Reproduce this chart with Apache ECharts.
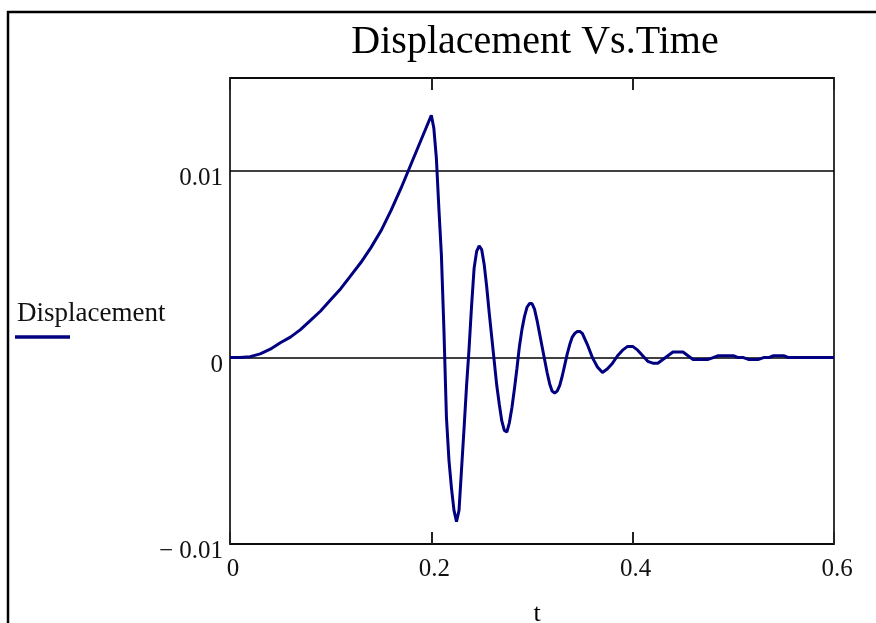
<!DOCTYPE html>
<html>
<head>
<meta charset="utf-8">
<script src="https://cdn.jsdelivr.net/npm/echarts@6/dist/echarts.min.js"></script>
<style>
html,body{margin:0;padding:0;background:#fff;}
#main{width:876px;height:623px;}
</style>
</head>
<body>
<div id="main"></div>
<script>
var timeValues = [0, 0.01, 0.02, 0.03, 0.04, 0.05, 0.06, 0.07, 0.08, 0.09, 0.10, 0.11, 0.12, 0.13, 0.14, 0.15, 0.16, 0.17, 0.18, 0.19,
    0.2000, 0.2025, 0.2050, 0.2075, 0.2100, 0.2125, 0.2150, 0.2175, 0.2200, 0.2225, 0.2250, 0.2275, 0.2300, 0.2325, 0.2350, 0.2375,
    0.2400, 0.2425, 0.2450, 0.2475, 0.2500, 0.2525, 0.2550, 0.2575, 0.2600, 0.2625, 0.2650, 0.2675, 0.2700, 0.2725, 0.2750, 0.2775,
    0.2800, 0.2825, 0.2850, 0.2875, 0.2900, 0.2925, 0.2950, 0.2975, 0.3000, 0.3025, 0.3050, 0.3075, 0.3100, 0.3125, 0.3150, 0.3175,
    0.3200, 0.3225, 0.3250, 0.3275, 0.3300, 0.3325, 0.3350, 0.3375, 0.3400, 0.3425, 0.3450, 0.3475, 0.3500, 0.3550, 0.3600, 0.3650,
    0.3700, 0.3750, 0.3800, 0.3850, 0.3900, 0.3950, 0.4000, 0.4050, 0.4100, 0.4150, 0.4200, 0.4250, 0.4300, 0.4350, 0.4400, 0.4450,
    0.4500, 0.4550, 0.4600, 0.4650, 0.4700, 0.4750, 0.4800, 0.4850, 0.4900, 0.4950, 0.5000, 0.5050, 0.5100, 0.5150, 0.5200, 0.5250,
    0.5300, 0.5350, 0.5400, 0.5450, 0.5500, 0.5550, 0.5600, 0.6000];
var displacement = [0, 0.00001, 0.00005, 0.0002, 0.00045, 0.0008, 0.0011, 0.0015, 0.0020, 0.0025, 0.0031, 0.0037, 0.0044, 0.0051, 0.0059, 0.0068, 0.0079, 0.0091, 0.0104, 0.0117,
    0.0130, 0.0123, 0.0107, 0.0080, 0.0055, 0.0015, -0.0032, -0.0055, -0.0070, -0.0082, -0.0088, -0.0082, -0.0060, -0.0038, -0.0015, 0.0005,
    0.0028, 0.0048, 0.0057, 0.0060, 0.0058, 0.0050, 0.0038, 0.0024, 0.0011, -0.0002, -0.0015, -0.0025, -0.0034, -0.0039, -0.0040, -0.0035,
    -0.0027, -0.0017, -0.0006, 0.0006, 0.0015, 0.0022, 0.0027, 0.0029, 0.0029, 0.0026, 0.0020, 0.0013, 0.0006, -0.0001, -0.0008, -0.0014,
    -0.0018, -0.0019, -0.0018, -0.0015, -0.0010, -0.0004, 0.0002, 0.0007, 0.0011, 0.0013, 0.0014, 0.0014, 0.0013, 0.0007, 0.0000, -0.0005,
    -0.0008, -0.0006, -0.0003, 0.0001, 0.0004, 0.0006, 0.0006, 0.0004, 0.0001, -0.0002, -0.0003, -0.0003, -0.0001, 0.0001, 0.0003, 0.0003,
    0.0003, 0.0001, -0.0001, -0.0001, -0.0001, -0.0001, 0.0000, 0.0001, 0.0001, 0.0001, 0.0001, 0.0000, 0.0000, -0.0001, -0.0001, -0.0001,
    0.0000, 0.0000, 0.0001, 0.0001, 0.0001, 0.0000, 0.0000, 0.0000];
var xTicks = [0, 0.6, 0.2];     // min, max, interval
var yTicks = [-0.01, 0.015, 0.01];

var serif = 'Liberation Serif';
var chart = echarts.init(document.getElementById('main'));

function yLabel(v) {
    if (Math.abs(v) < 1e-12) return '0';
    if (v < 0) return '\u2212 ' + (+(-v).toFixed(3));
    return String(+v.toFixed(3));
}
function xLabel(v) {
    return String(+v.toFixed(2));
}

chart.setOption({
    animation: false,
    title: {
        text: 'Displacement Vs.Time',
        left: 530,
        top: 17,
        textAlign: 'center',
        textStyle: {fontFamily: serif, fontSize: 40, fontWeight: 'normal', color: '#000'}
    },
    grid: {
        left: 230, right: 42, top: 78, bottom: 79,
        outerBoundsMode: 'none',
        show: true, borderColor: '#333', borderWidth: 2, backgroundColor: 'transparent'
    },
    xAxis: [
        {
            type: 'value',
            min: xTicks[0], max: xTicks[1], interval: xTicks[2],
            name: 't',
            nameLocation: 'middle',
            nameGap: 57,
            nameTextStyle: {fontFamily: serif, fontSize: 26, color: '#000', padding: [0, 0, 0, 10]},
            axisLine: {show: false, onZero: false},
            axisTick: {show: true, inside: true, length: 12, lineStyle: {color: '#222', width: 2}},
            axisLabel: {
                margin: 13, fontFamily: serif, fontSize: 25, color: '#111',
                padding: [0, 0, 0, 6],
                formatter: xLabel
            },
            splitLine: {show: false}
        },
        {
            type: 'value',
            position: 'top',
            min: xTicks[0], max: xTicks[1], interval: xTicks[2],
            axisLine: {show: false, onZero: false},
            axisTick: {show: true, inside: true, length: 12, lineStyle: {color: '#222', width: 2}},
            axisLabel: {show: false},
            splitLine: {show: false}
        }
    ],
    yAxis: {
        type: 'value',
        min: yTicks[0], max: yTicks[1], interval: yTicks[2],
        axisLine: {show: false},
        axisTick: {show: false},
        axisLabel: {
            margin: 7, fontFamily: serif, fontSize: 25, color: '#111',
            verticalAlign: 'top',
            lineHeight: 15,
            showMaxLabel: false,
            formatter: yLabel
        },
        splitLine: {show: true, lineStyle: {color: '#000', width: 1.5}}
    },
    graphic: [
        {type: 'line', shape: {x1: 7, y1: 12, x2: 876, y2: 12}, style: {stroke: '#000', lineWidth: 2.5}},
        {type: 'line', shape: {x1: 8, y1: 11, x2: 8, y2: 623}, style: {stroke: '#000', lineWidth: 2.5}},
        {type: 'text', left: 17, top: 300,
            style: {text: 'Displacement', font: '27px "Liberation Serif"', fill: '#111'}},
        {type: 'line', shape: {x1: 15, y1: 337, x2: 70, y2: 337}, style: {stroke: '#000080', lineWidth: 3.5}}
    ],
    series: [{
        name: 'Displacement',
        type: 'line',
        showSymbol: false,
        smooth: false,
        lineStyle: {color: '#000080', width: 3},
        z: 5,
        data: timeValues.map(function (t, i) { return [t, displacement[i]]; })
    }]
});
</script>
</body>
</html>
